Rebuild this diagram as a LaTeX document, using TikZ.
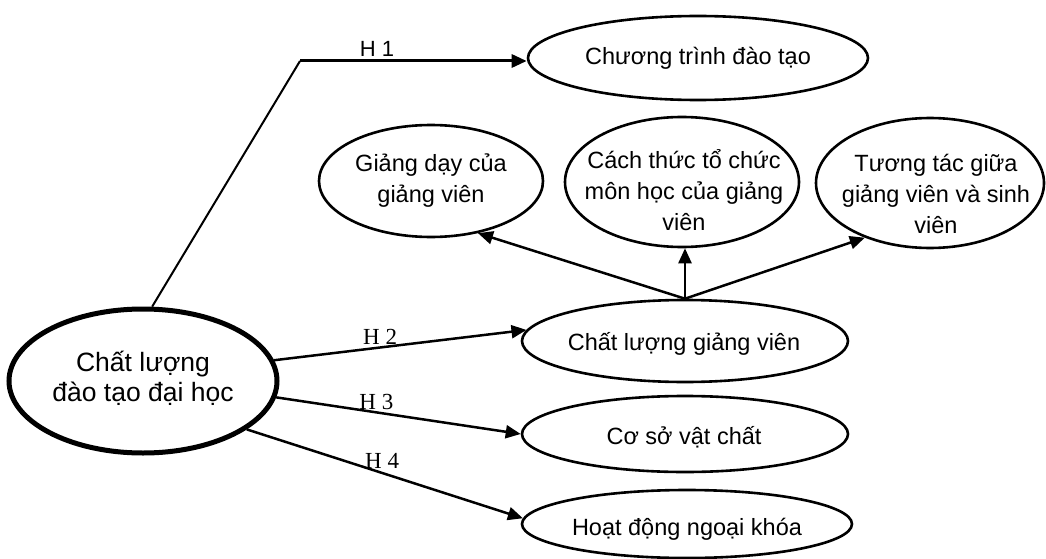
\documentclass[tikz,border=0pt]{standalone}
\usepackage{fontspec}
\setmainfont{Liberation Sans}
\newfontfamily\hfont{Liberation Serif}
\usetikzlibrary{shapes.geometric,arrows.meta}
\begin{document}
\begin{tikzpicture}[x=1pt,y=-1pt,
  ell/.style={draw=black,line width=2.6pt,ellipse,inner sep=0pt,fill=white},
  txt/.style={align=center,inner sep=0pt,font=\fontsize{23.5}{31}\selectfont},
  conn/.style={line width=2.5pt,-{Triangle[length=15pt,width=13pt]}},
  hlab/.style={font=\hfont\fontsize{23}{25}\selectfont,inner sep=2pt,above},
]
\useasboundingbox (0,0) rectangle (1046,559);
% main node
\node[ell,line width=5pt,minimum width=268pt,minimum height=144pt] (main) at (143,381) {};
\node[txt,font=\fontsize{26.5}{30}\selectfont] (maint) at (143,378) {Chất lượng\\đào tạo đại học};
% right nodes
\node[ell,minimum width=340pt,minimum height=84pt] (ct) at (698,58) {};
\node[txt] (ctt) at (698,58) {Chương trình đào tạo};
\node[ell,minimum width=224pt,minimum height=112pt] (gd) at (431,181) {};
\node[txt] (gdt) at (431,181) {Giảng dạy của\\giảng viên};
\node[ell,minimum width=234pt,minimum height=130pt] (cach) at (682,182) {};
\node[txt] (cacht) at (684,190) {Cách thức tổ chức\\môn học của giảng\\viên};
\node[ell,minimum width=228pt,minimum height=130pt] (tt) at (930,183) {};
\node[txt] (ttt) at (936,194) {Tương tác giữa\\giảng viên và sinh\\viên};
\node[ell,minimum width=326pt,minimum height=82pt] (cgv) at (685,341) {};
\node[txt] (cgvt) at (684,344) {Chất lượng giảng viên};
\node[ell,minimum width=326pt,minimum height=76pt] (csv) at (685,434) {};
\node[txt] (csvt) at (684,437) {Cơ sở vật chất};
\node[ell,minimum width=330pt,minimum height=68pt] (hd) at (687,524) {};
\node[txt] (hdt) at (687,529) {Hoạt động ngoại khóa};
% H1 connector
\coordinate (c1) at (300,61);
\draw[line width=2pt] (main.83) -- (c1);
\draw[conn,line width=3pt] (c1) -- node[pos=0.34,above,inner sep=3pt,font=\fontsize{22}{24}\selectfont] (h1) {H 1} (c1 -| ct.west);
% H2-H4
\draw[conn] (main.9) -- node[hlab,pos=0.42] (h2) {H 2} (cgv.176);
\draw[conn] (main.-7) -- node[hlab,pos=0.41,inner sep=1pt] (h3) {H 3} (csv.west);
\draw[conn] (main.-25) -- node[hlab,pos=0.49,inner sep=3pt] (h4) {H 4} (hd.178);
% upward arrows
\draw[conn] (cgv.north) -- (gd.-48);
\draw[conn] (cgv.north) -- (cgv.north |- cach.south);
\draw[conn] (cgv.north) -- (tt.-140);
\end{tikzpicture}
\end{document}
